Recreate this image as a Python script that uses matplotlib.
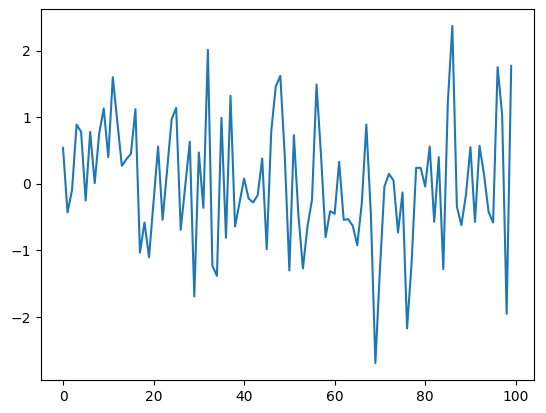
import matplotlib
matplotlib.use("Agg")
import matplotlib.pyplot as plt

# values, one per index 0..99
values = [
    0.54, -0.43, -0.09, 0.89, 0.78, -0.25, 0.78, 0.01, 0.76, 1.13,
    0.40, 1.60, 0.93, 0.27, 0.37, 0.45, 1.12, -1.03, -0.58, -1.10,
    -0.27, 0.56, -0.54, 0.21, 0.97, 1.14, -0.69, -0.03, 0.63, -1.69,
    0.47, -0.36, 2.01, -1.23, -1.38, 0.99, -0.81, 1.32, -0.64, -0.28,
    0.08, -0.22, -0.28, -0.17, 0.38, -0.98, 0.79, 1.46, 1.62, 0.40,
    -1.30, 0.73, -0.47, -1.27, -0.64, -0.24, 1.49, 0.42, -0.80, -0.41,
    -0.45, 0.33, -0.54, -0.53, -0.63, -0.92, -0.29, 0.89, -0.45, -2.69,
    -1.29, -0.04, 0.15, 0.05, -0.73, -0.13, -2.17, -1.19, 0.24, 0.24,
    -0.04, 0.56, -0.57, 0.40, -1.28, 1.22, 2.37, -0.34, -0.62, -0.17,
    0.55, -0.57, 0.57, 0.14, -0.42, -0.58, 1.75, 1.04, -1.95, 1.77,
]
index = list(range(len(values)))

fig = plt.figure(figsize=(5.46, 4.13), dpi=100)
ax = fig.add_axes([40.6 / 546, 33 / 413, 493 / 546, 371 / 413])
ax.plot(index, values)

fig.savefig("out.png", dpi=100)
